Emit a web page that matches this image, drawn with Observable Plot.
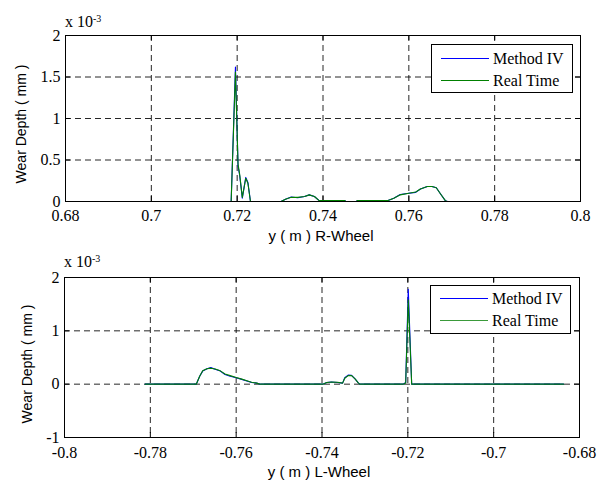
<!DOCTYPE html>
<html><head><meta charset="utf-8">
<script src="https://cdn.jsdelivr.net/npm/d3@7"></script>
<script src="https://cdn.jsdelivr.net/npm/@observablehq/plot@0.6"></script>
<style>
body{margin:0;background:#fff;}
#wrap{position:relative;width:605px;height:483px;overflow:hidden;background:#fff;}
.panel{position:absolute;left:0;width:605px;}
.panel svg text{font-family:"Liberation Serif","Times New Roman",serif !important;}
.exp{position:absolute;font-family:"Liberation Serif","Times New Roman",serif;font-size:16px;line-height:16px;white-space:nowrap;color:#000;}
.exp sup{font-size:10px;position:relative;top:-3px;vertical-align:top;}
.lab{position:absolute;font-family:"Liberation Sans",Arial,sans-serif;white-space:nowrap;color:#000;transform:translate(-50%,-50%);}
.ylab{transform:translate(-50%,-50%) rotate(-90deg);}
.legend{position:absolute;box-sizing:border-box;background:#fff;border:1px solid #000;font-family:"Liberation Serif","Times New Roman",serif;font-size:16px;color:#000;}
.legend .sw{position:absolute;height:0;border-top:1.3px solid;}
.legend .tx{position:absolute;line-height:16px;white-space:nowrap;transform:translateY(-50%);}
</style>
</head><body>
<div id="wrap"></div>
<script>
// ---- Data (wear depth in units of 1e-3 mm) ----
const seriesNames = ["Method IV", "Real Time"];
const seriesColors = ["#0000ff", "#008000"];

// R-Wheel (top)
const rX = [0.6851, 0.7186, 0.7196, 0.7202, 0.7206, 0.7212, 0.7220, 0.7225, 0.7231, 0.7302, 0.7314, 0.7326, 0.7341, 0.7357, 0.7368, 0.7380, 0.7391, 0.7395, 0.7451, 0.7453, 0.7477, 0.7480, 0.7550, 0.7565, 0.7580, 0.7600, 0.7616, 0.7627, 0.7643, 0.7654, 0.7664, 0.7674, 0.7685, 0.7690, 0.7805];
const rMethod = [0, 0, 1.62, 0.43, 0.31, 0.04, 0.29, 0.23, 0, 0, 0.03, 0.055, 0.045, 0.06, 0.08, 0.06, 0.01, 0.01, 0.01, 0, 0, 0.01, 0.01, 0.04, 0.085, 0.10, 0.11, 0.15, 0.18, 0.18, 0.165, 0.09, 0.01, 0, 0];
const rReal   = [0, 0, 1.56, 0.45, 0.32, 0.05, 0.28, 0.22, 0, 0, 0.03, 0.05, 0.05, 0.06, 0.08, 0.06, 0.01, 0.01, 0.01, 0, 0, 0.01, 0.01, 0.04, 0.08, 0.10, 0.115, 0.15, 0.18, 0.18, 0.165, 0.09, 0.01, 0, 0];

// L-Wheel (bottom)
const lX = [-0.7812, -0.7693, -0.7685, -0.7678, -0.7668, -0.7659, -0.7649, -0.7637, -0.7626, -0.7614, -0.7600, -0.7587, -0.7575, -0.7564, -0.7552, -0.7544, -0.7398, -0.7389, -0.7378, -0.7364, -0.7352, -0.7347, -0.7339, -0.7331, -0.7323, -0.7316, -0.7312, -0.7211, -0.7205, -0.7199, -0.7191, -0.6837];
const lMethod = [0, 0, 0.15, 0.245, 0.29, 0.31, 0.28, 0.245, 0.18, 0.15, 0.12, 0.09, 0.06, 0.03, 0.02, 0, 0, 0.03, 0.04, 0.03, 0.02, 0.12, 0.17, 0.165, 0.10, 0.03, 0, 0, 0.03, 1.78, 0, 0];
const lReal   = [0, 0, 0.15, 0.25, 0.29, 0.30, 0.285, 0.25, 0.19, 0.16, 0.125, 0.095, 0.065, 0.035, 0.02, 0, 0, 0.03, 0.04, 0.035, 0.02, 0.11, 0.16, 0.16, 0.10, 0.03, 0, 0, 0.02, 1.58, 0, 0];

// Ticks
const rXTicks = [0.68, 0.70, 0.72, 0.74, 0.76, 0.78, 0.80];
const rXTickLabels = ["0.68", "0.7", "0.72", "0.74", "0.76", "0.78", "0.8"];
const rYTicks = [0, 0.5, 1, 1.5, 2];
const rYTickLabels = ["0", "0.5", "1", "1.5", "2"];
const lXTicks = [-0.80, -0.78, -0.76, -0.74, -0.72, -0.70, -0.68];
const lXTickLabels = ["-0.8", "-0.78", "-0.76", "-0.74", "-0.72", "-0.7", "-0.68"];
const lYTicks = [-1, 0, 1, 2];
const lYTickLabels = ["-1", "0", "1", "2"];

const yTitle = "Wear Depth ( mm )";
const rXTitle = "y ( m ) R-Wheel";
const lXTitle = "y ( m ) L-Wheel";

const serif = '"Liberation Serif","Times New Roman",serif';

function panel(cfg) {
  const {xs, m, r, xTicks, xLabels, yTicks, yLabels, height, mt, mb, ml, mr, xPad} = cfg;
  const data = xs.map((x, i) => ({x, m: m[i], r: r[i]}));
  const xDomain = [xTicks[0], xTicks[xTicks.length - 1]];
  const yDomain = [yTicks[0], yTicks[yTicks.length - 1]];
  const xGrid = xTicks.slice(1, -1);
  const yGrid = yTicks.slice(1, -1);
  const xMap = new Map(xTicks.map((t, i) => [t, xLabels[i]]));
  const yMap = new Map(yTicks.map((t, i) => [t, yLabels[i]]));
  const plotH = height - mt - mb;
  const plotW = 605 - ml - mr;
  const grid = {stroke: "#000", strokeOpacity: 0.85, strokeWidth: 1, strokeDasharray: "6,4"};
  const svg = Plot.plot({
    width: 605, height,
    marginTop: mt, marginBottom: mb, marginLeft: ml, marginRight: mr,
    x: {domain: xDomain},
    y: {domain: yDomain},
    style: {fontFamily: serif, fontSize: "16px", background: "transparent", color: "#000"},
    marks: [
      Plot.ruleX(xGrid, grid),
      Plot.ruleY(yGrid, grid),
      Plot.tickX(xTicks, {x: d => d, stroke: "#000", insetTop: plotH - 5}),
      Plot.tickX(xTicks, {x: d => d, stroke: "#000", insetBottom: plotH - 5}),
      Plot.tickY(yTicks, {y: d => d, stroke: "#000", insetRight: plotW - 5}),
      Plot.tickY(yTicks, {y: d => d, stroke: "#000", insetLeft: plotW - 5}),
      Plot.line(data, {x: "x", y: "m", stroke: seriesColors[0], strokeWidth: 1.1}),
      Plot.line(data, {x: "x", y: "r", stroke: seriesColors[1], strokeWidth: 1.1}),
      Plot.frame({stroke: "#000", strokeWidth: 1}),
      Plot.axisX(xTicks, {tickSize: 0, tickPadding: xPad, tickFormat: d => xMap.get(d), label: null, fontSize: 16, fontFamily: serif, fill: "#000"}),
      Plot.axisY(yTicks, {tickSize: 0, tickPadding: 5, tickFormat: d => yMap.get(d), label: null, fontSize: 16, fontFamily: serif, fill: "#000"})
    ]
  });
  svg.style.fontFamily = serif;
  return svg;
}

const wrap = document.getElementById("wrap");

function addPanel(top, svg) {
  const d = document.createElement("div");
  d.className = "panel";
  d.style.top = top + "px";
  d.appendChild(svg);
  wrap.appendChild(d);
}

addPanel(0, panel({xs: rX, m: rMethod, r: rReal, xTicks: rXTicks, xLabels: rXTickLabels, yTicks: rYTicks, yLabels: rYTickLabels, height: 240, mt: 35, mb: 39, ml: 65, mr: 25, xPad: 8}));
addPanel(240, panel({xs: lX, m: lMethod, r: lReal, xTicks: lXTicks, xLabels: lXTickLabels, yTicks: lYTicks, yLabels: lYTickLabels, height: 243, mt: 37, mb: 46, ml: 64, mr: 26, xPad: 9}));

function addExp(left, top) {
  const e = document.createElement("div");
  e.className = "exp";
  e.style.left = left + "px";
  e.style.top = top + "px";
  e.innerHTML = "x 10<sup>-3</sup>";
  wrap.appendChild(e);
}
addExp(65, 14);
addExp(64, 254);

function addLab(text, cx, cy, size, rot) {
  const e = document.createElement("div");
  e.className = "lab" + (rot ? " ylab" : "");
  e.style.left = cx + "px";
  e.style.top = cy + "px";
  e.style.fontSize = size + "px";
  e.textContent = text;
  wrap.appendChild(e);
}
addLab(yTitle, 21, 124, 14, true);
addLab(yTitle, 27, 364, 14, true);
addLab(rXTitle, 321, 235, 15, false);
addLab(lXTitle, 319, 471, 15, false);

function addLegend(left, top, w, h, rows, colors) {
  const lg = document.createElement("div");
  lg.className = "legend";
  Object.assign(lg.style, {left: left + "px", top: top + "px", width: w + "px", height: h + "px"});
  seriesNames.forEach((name, i) => {
    const sw = document.createElement("div");
    sw.className = "sw";
    Object.assign(sw.style, {left: "9px", width: "48px", top: (rows[i] - 1) + "px", borderColor: colors[i]});
    const tx = document.createElement("div");
    tx.className = "tx";
    Object.assign(tx.style, {left: "61px", top: rows[i] + "px"});
    tx.textContent = name;
    lg.appendChild(sw);
    lg.appendChild(tx);
  });
  wrap.appendChild(lg);
}
addLegend(431, 44, 142, 49, [14, 36], seriesColors);
addLegend(430, 285, 141, 49, [13, 35], [seriesColors[0], "#3a9a3a"]);
</script>
</body></html>
